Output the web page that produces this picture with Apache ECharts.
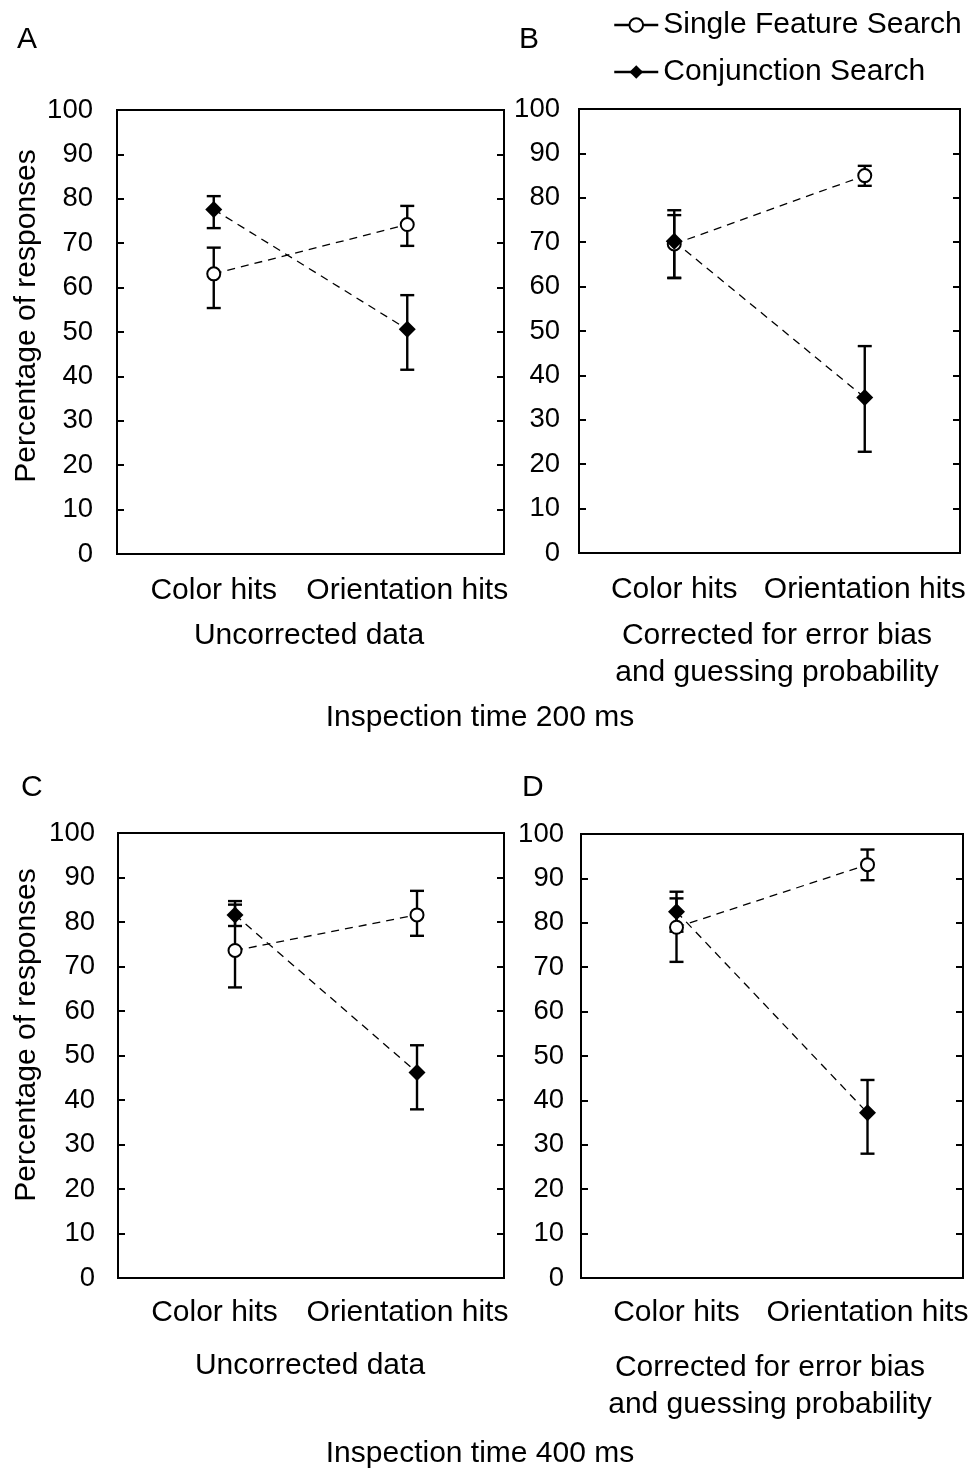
<!DOCTYPE html>
<html>
<head>
<meta charset="utf-8">
<script src="https://cdn.jsdelivr.net/npm/echarts@6/dist/echarts.min.js"></script>
<style>
html,body{margin:0;padding:0;background:#fff;}
#chart{width:977px;height:1469px;}
</style>
</head>
<body>
<div id="chart"></div>
<script>
// ---------- data ----------
const categories = ['Color hits', 'Orientation hits'];
const yTickMin = 0, yTickMax = 100, yTickStep = 10;
const seriesNames = ['Single Feature Search', 'Conjunction Search'];

// Panel A (200 ms, uncorrected)
const singleA = [63.1, 74.2];
const singleA_low = [55.4, 69.4];
const singleA_high = [69.0, 78.4];
const conjA = [77.6, 50.6];
const conjA_low = [73.4, 41.5];
const conjA_high = [80.6, 58.3];

// Panel B (200 ms, corrected)
const singleB = [69.6, 85.0];
const singleB_low = [62.0, 82.7];
const singleB_high = [76.1, 87.2];
const conjB = [70.2, 35.0];
const conjB_low = [61.9, 22.8];
const conjB_high = [77.2, 46.6];

// Panel C (400 ms, uncorrected)
const singleC = [73.6, 81.6];
const singleC_low = [65.3, 76.9];
const singleC_high = [83.9, 87.0];
const conjC = [81.6, 46.2];
const conjC_low = [79.1, 37.9];
const conjC_high = [84.7, 52.3];

// Panel D (400 ms, corrected)
const singleD = [79.0, 93.1];
const singleD_low = [71.2, 89.6];
const singleD_high = [85.5, 96.5];
const conjD = [82.5, 37.2];
const conjD_low = [78.0, 28.0];
const conjD_high = [87.0, 44.6];

const panelLetters = ['A', 'B', 'C', 'D'];
const xTitles = ['Uncorrected data', 'Corrected for error bias\nand guessing probability',
                 'Uncorrected data', 'Corrected for error bias\nand guessing probability'];
const rowTitles = ['Inspection time 200 ms', 'Inspection time 400 ms'];
const yTitle = 'Percentage of responses';

// ---------- layout ----------
const FONT = '"Liberation Sans", Arial, sans-serif';
const FS = 30;      // text size
const TFS = 27.5;   // tick label size
const panels = [
  {grid:{left:117, top:110, width:387, height:444}, xr:[-0.5,1.5], lm:24, cm:22,
   single:[singleA,singleA_low,singleA_high], conj:[conjA,conjA_low,conjA_high]},
  {grid:{left:579, top:109, width:381, height:444}, xr:[-0.5,1.5], lm:19, cm:22,
   single:[singleB,singleB_low,singleB_high], conj:[conjB,conjB_low,conjB_high]},
  {grid:{left:118, top:833, width:386, height:445}, xr:[-0.643,1.478], lm:23, cm:20,
   single:[singleC,singleC_low,singleC_high], conj:[conjC,conjC_low,conjC_high]},
  {grid:{left:581, top:834, width:382, height:444}, xr:[-0.5,1.5], lm:17, cm:20,
   single:[singleD,singleD_low,singleD_high], conj:[conjD,conjD_low,conjD_high]}
];

const grids = [], xAxes = [], yAxes = [], series = [];

function errRender(params, api) {
  const x = api.value(0), lo = api.value(1), hi = api.value(2);
  const a = api.coord([x, lo]), b = api.coord([x, hi]);
  const w = 7;
  const st = {stroke:'#000', lineWidth:2.4};
  return {type:'group', children:[
    {type:'line', shape:{x1:a[0], y1:a[1], x2:b[0], y2:b[1]}, style:st},
    {type:'line', shape:{x1:a[0]-w, y1:a[1], x2:a[0]+w, y2:a[1]}, style:st},
    {type:'line', shape:{x1:b[0]-w, y1:b[1], x2:b[0]+w, y2:b[1]}, style:st}
  ]};
}

panels.forEach((p, i) => {
  grids.push(Object.assign({show:true, borderColor:'#000', borderWidth:2, backgroundColor:'transparent'}, p.grid));
  // category axis for labels
  xAxes.push({type:'category', gridIndex:i, data:categories, boundaryGap:true,
    axisLine:{show:false, onZero:false}, axisTick:{show:false}, splitLine:{show:false},
    axisLabel:{color:'#000', fontSize:FS, fontFamily:FONT, margin:p.cm, interval:0}});
  // value axis for data placement
  xAxes.push({type:'value', gridIndex:i, min:p.xr[0], max:p.xr[1], show:false,
    axisLine:{onZero:false}});
  const yBase = {type:'value', gridIndex:i, min:yTickMin, max:yTickMax, interval:yTickStep,
    axisLine:{show:false, onZero:false}, splitLine:{show:false},
    axisTick:{show:true, inside:true, length:7, lineStyle:{color:'#000', width:2}}};
  yAxes.push(Object.assign({}, yBase, {position:'left',
    axisLabel:{color:'#000', fontSize:TFS, fontFamily:FONT, margin:p.lm}}));
  yAxes.push(Object.assign({}, yBase, {position:'right', axisLabel:{show:false}}));

  const xi = i*2 + 1, yi = i*2;
  const defs = [
    {name:seriesNames[0], d:p.single, symbol:'circle', size:13,
     itemStyle:{color:'#fff', borderColor:'#000', borderWidth:2}},
    {name:seriesNames[1], d:p.conj, symbol:'diamond', size:17,
     itemStyle:{color:'#000', borderColor:'#000', borderWidth:0}}
  ];
  defs.forEach(s => {
    const vals = s.d[0], lo = s.d[1], hi = s.d[2];
    series.push({type:'custom', name:s.name + ' error', xAxisIndex:xi, yAxisIndex:yi, z:2,
      renderItem:errRender, encode:{x:0, y:[1,2]}, silent:true,
      data: categories.map((c, k) => [k, lo[k], hi[k]])});
    series.push({type:'line', name:s.name, xAxisIndex:xi, yAxisIndex:yi, z:5,
      symbol:s.symbol, symbolSize:s.size, showSymbol:true, itemStyle:s.itemStyle,
      lineStyle:{color:'#000', width:1.3, type:[8,6]}, animation:false,
      data: categories.map((c, k) => [k, vals[k]])});
  });
});

const graphics = [];
const letterPos = [[17,40],[519,40],[21,788],[522,788]];
panelLetters.forEach((L, i) => graphics.push({type:'text', x:letterPos[i][0], y:letterPos[i][1],
  style:{text:L, font:`${FS}px ${FONT}`, fill:'#000', verticalAlign:'middle'}}));
// y titles
[[27,316],[27,1035]].forEach(p => graphics.push({type:'text', x:p[0], y:p[1], rotation:Math.PI/2,
  style:{text:yTitle, font:`${FS}px ${FONT}`, fill:'#000', align:'center', verticalAlign:'middle'}}));
// x titles (center of first line)
const xtPos = [[309,635],[777,635],[310,1365],[770,1367]];
xTitles.forEach((t, i) => graphics.push({type:'text', x:xtPos[i][0], y:xtPos[i][1]-18,
  style:{text:t, font:`${FS}px ${FONT}`, fill:'#000', align:'center', verticalAlign:'top', lineHeight:37}}));
// row titles
[[480,718],[480,1454]].forEach((p, i) => graphics.push({type:'text', x:p[0], y:p[1],
  style:{text:rowTitles[i], font:`${FS}px ${FONT}`, fill:'#000', align:'center', verticalAlign:'middle'}}));

const option = {
  animation:false,
  backgroundColor:'#fff',
  textStyle:{fontFamily:FONT},
  legend:{data:seriesNames, orient:'vertical', left:608, top:5, itemWidth:44, itemHeight:17, itemGap:17,
    textStyle:{fontSize:FS, color:'#000', fontFamily:FONT},
    lineStyle:{type:'solid', width:2.5, color:'#000'}},
  grid:grids, xAxis:xAxes, yAxis:yAxes, series:series, graphic:graphics
};
const chart = echarts.init(document.getElementById('chart'), null, {renderer:'canvas'});
chart.setOption(option);
</script>
</body>
</html>
